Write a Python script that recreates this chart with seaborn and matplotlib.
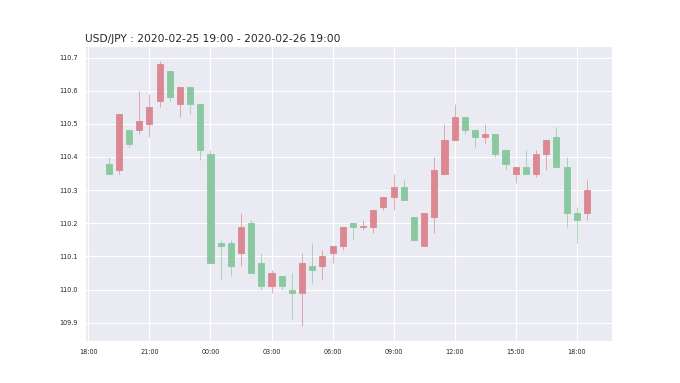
import pandas as pd
import numpy as np
import seaborn as sns
import matplotlib
matplotlib.use('Agg')
import matplotlib.pyplot as plt
import matplotlib.dates as mdates

# 30 minute candles, USD/JPY
start = '2020-02-25 19:00'
opens = [110.38, 110.36, 110.48, 110.48, 110.50, 110.57, 110.66, 110.56, 110.61, 110.56,
         110.41, 110.14, 110.14, 110.11, 110.20, 110.08, 110.01, 110.04, 110.00, 109.99,
         110.07, 110.07, 110.11, 110.13, 110.20, 110.19, 110.19, 110.25, 110.28, 110.31,
         110.22, 110.13, 110.22, 110.35, 110.45, 110.52, 110.48, 110.46, 110.47, 110.42,
         110.35, 110.37, 110.35, 110.41, 110.46, 110.37, 110.23, 110.23]
closes = [110.35, 110.53, 110.44, 110.51, 110.55, 110.68, 110.58, 110.61, 110.56, 110.42,
          110.08, 110.13, 110.07, 110.19, 110.05, 110.01, 110.05, 110.01, 109.99, 110.08,
          110.06, 110.10, 110.13, 110.19, 110.19, 110.192, 110.24, 110.28, 110.31, 110.27,
          110.15, 110.23, 110.36, 110.45, 110.52, 110.48, 110.46, 110.47, 110.41, 110.38,
          110.37, 110.35, 110.41, 110.45, 110.37, 110.23, 110.21, 110.30]
highs = [110.40, 110.53, 110.48, 110.60, 110.59, 110.69, 110.66, 110.61, 110.61, 110.56,
         110.42, 110.15, 110.15, 110.23, 110.21, 110.11, 110.06, 110.04, 110.05, 110.11,
         110.14, 110.12, 110.13, 110.19, 110.20, 110.21, 110.24, 110.28, 110.35, 110.33,
         110.22, 110.23, 110.40, 110.50, 110.56, 110.52, 110.48, 110.50, 110.47, 110.42,
         110.37, 110.42, 110.42, 110.45, 110.49, 110.40, 110.25, 110.33]
lows = [110.35, 110.35, 110.43, 110.47, 110.46, 110.55, 110.57, 110.52, 110.53, 110.39,
        110.08, 110.03, 110.04, 110.07, 110.05, 110.00, 109.99, 110.00, 109.91, 109.89,
        110.02, 110.03, 110.08, 110.12, 110.15, 110.18, 110.17, 110.24, 110.24, 110.27,
        110.15, 110.13, 110.17, 110.35, 110.45, 110.47, 110.43, 110.44, 110.40, 110.36,
        110.32, 110.35, 110.34, 110.36, 110.37, 110.19, 110.14, 110.21]

df = pd.DataFrame({'open': opens, 'close': closes, 'high': highs, 'low': lows},
                  index=pd.date_range(start, periods=len(opens), freq='30min'))

sns.set_style('darkgrid')
fig = plt.figure(figsize=(6.8, 3.83), dpi=100)
ax = fig.add_subplot(111)

up = df['close'] >= df['open']
col = np.where(up, '#dc8892', '#8ac8a0')
x = mdates.date2num(df.index.to_pydatetime())
width = 0.6 / 48

ax.vlines(x, df['low'], df['high'], colors=col, linewidth=0.7, alpha=0.7)
bottom = df[['open', 'close']].min(axis=1)
height = (df['close'] - df['open']).abs().clip(lower=0.002)
ax.bar(x, height, width, bottom=bottom, color=col, edgecolor=col, linewidth=0.6)

ax.xaxis.set_major_locator(mdates.HourLocator(byhour=range(0, 24, 3)))
ax.xaxis.set_major_formatter(mdates.DateFormatter('%H:%M'))
ax.set_xlim(mdates.date2num(pd.Timestamp('2020-02-25 17:50')),
            mdates.date2num(pd.Timestamp('2020-02-26 19:44')))
ax.set_ylim(109.845, 110.735)
ax.tick_params(labelsize=4.7, pad=2)
ax.grid(linewidth=0.8)
ax.set_title('USD/JPY : 2020-02-25 19:00 - 2020-02-26 19:00', loc='left', fontsize=7.7, pad=3)

fig.subplots_adjust(left=0.125, right=0.9, top=0.88, bottom=0.11)
plt.savefig('out.png', dpi=100)
